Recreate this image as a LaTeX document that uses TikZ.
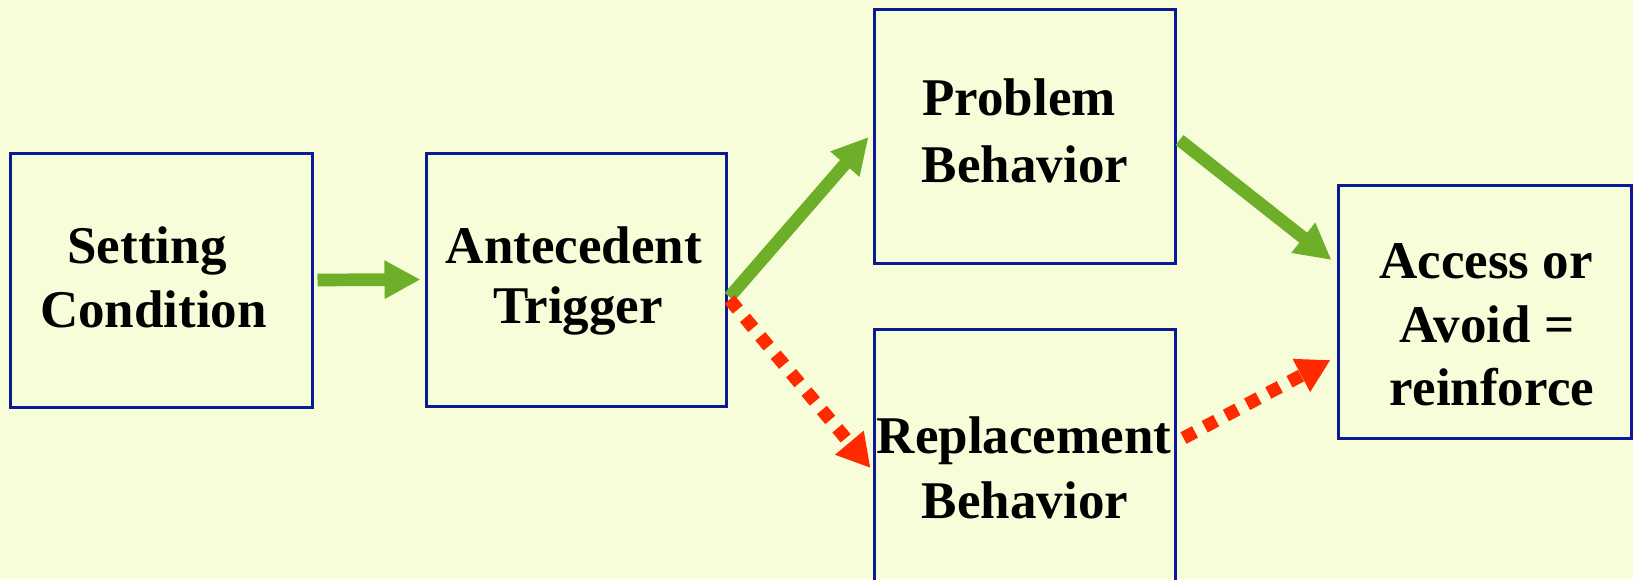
\documentclass[tikz,border=0pt]{standalone}
\usepackage{fontspec}
\setmainfont{Liberation Serif}
\usetikzlibrary{arrows.meta,calc}
\definecolor{paper}{HTML}{F7FDD8}
\definecolor{boxline}{HTML}{0A1A99}
\definecolor{goline}{HTML}{6EAF2A}
\definecolor{altline}{HTML}{FF2A00}
\tikzset{
  stage/.style={draw=boxline, line width=3pt, rectangle, inner sep=0pt},
  caption/.style={anchor=base, inner sep=0pt, font=\fontsize{53}{64}\selectfont\bfseries},
  goarrow/.style={draw=goline, line width=12.7pt,
    -{Triangle[width=36pt,length=36pt]}},
  altarrow/.style={draw=altline, line width=13pt, dash pattern=on 13pt off 11pt,
    -{Triangle[width=35pt,length=33pt]}},
}
\begin{document}
\begin{tikzpicture}[x=1pt,y=-1pt]
  \useasboundingbox[fill=paper] (0,0) rectangle (1633,579);

  % stage boxes
  \node[stage, minimum width=302pt, minimum height=254pt] (setting) at (161,280) {};
  \node[stage, minimum width=300pt, minimum height=253pt] (ante) at (576,279.5) {};
  \node[stage, minimum width=301pt, minimum height=254pt] (prob) at (1024.5,136) {};
  \node[stage, minimum width=301pt, minimum height=254pt] (repl) at (1024.5,456) {};
  \node[stage, minimum width=293pt, minimum height=253pt] (acc) at (1484.5,311.5) {};

  % box texts
  \node[caption] (t1a) at (147,263) {Setting};
  \node[caption] (t1b) at (153.5,327) {Condition};
  \node[caption] (t2a) at (574,263) {Antecedent};
  \node[caption] (t2b) at (578,323) {Trigger};
  \node[caption] (t3a) at (1019,115) {Problem};
  \node[caption] (t3b) at (1025,182) {Behavior};
  \node[caption] (t4a) at (1024,453) {Replacement};
  \node[caption] (t4b) at (1025,518) {Behavior};
  \node[caption] (t5a) at (1486,278) {Access or};
  \node[caption] (t5b) at (1487,342) {Avoid =};
  \node[caption] (t5c) at (1492,405) {reinforce};

  % connectors
  \draw[goarrow, shorten <=4pt, shorten >=4pt] (setting.east) -- (ante.west);
  \draw[goarrow] ($(ante.east)+(2,17.5)$) -- ($(prob.west)+(-4,1)$);
  \draw[altarrow] ($(ante.east)+(2,20)$) -- ($(repl.west)+(-2,12)$);
  \draw[goarrow] ($(prob.east)+(3,4)$) -- ($(acc.west)+(-5,-51.5)$);
  \draw[altarrow] ($(repl.east)+(7,-18)$) -- ($(acc.west)+(-6,48.5)$);
\end{tikzpicture}
\end{document}
